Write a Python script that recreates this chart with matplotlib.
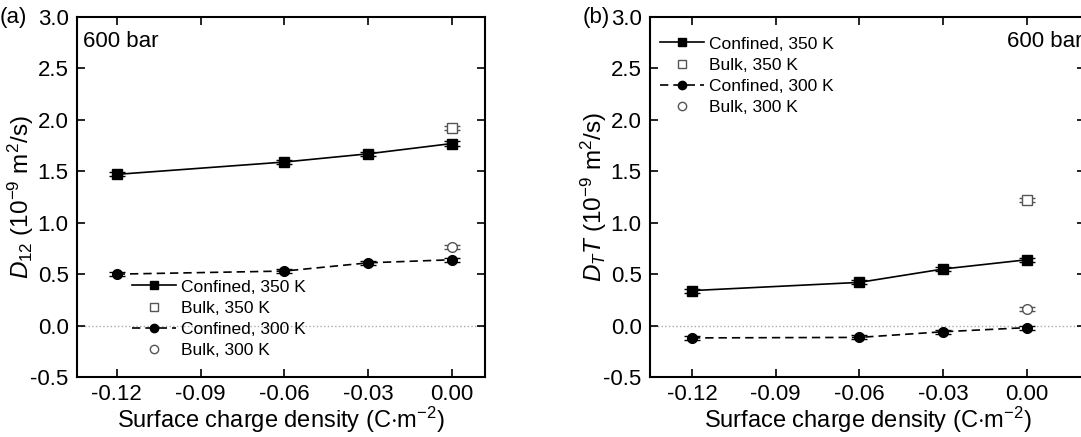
import matplotlib
matplotlib.use("Agg")
import matplotlib.pyplot as plt
from matplotlib.lines import Line2D

plt.rcParams["font.family"] = ["Liberation Sans", "DejaVu Sans"]
plt.rcParams["mathtext.fontset"] = "custom"
plt.rcParams["mathtext.rm"] = "Liberation Sans"
plt.rcParams["mathtext.it"] = "Liberation Sans:italic"

sigma = [-0.12, -0.06, -0.03, 0.00]
xticks = [-0.12, -0.09, -0.06, -0.03, 0.00]
yticks = [-0.5, 0.0, 0.5, 1.0, 1.5, 2.0, 2.5, 3.0]

# panel (a): D12
d12_conf_350 = [1.47, 1.59, 1.67, 1.77]
d12_conf_300 = [0.50, 0.53, 0.61, 0.64]
d12_bulk_350 = [1.92]
d12_bulk_300 = [0.76]

# panel (b): DT*T
dtt_conf_350 = [0.34, 0.42, 0.55, 0.64]
dtt_conf_300 = [-0.12, -0.115, -0.06, -0.02]
dtt_bulk_350 = [1.22]
dtt_bulk_300 = [0.16]

err = 0.02

fig = plt.figure(figsize=(10.81, 4.37), dpi=100)
W, H = 1081, 437
axa = fig.add_axes([77 / W, 1 - 377 / H, 408 / W, 360 / H])
axb = fig.add_axes([650 / W, 1 - 377 / H, 435 / W, 360 / H])


def draw(ax, c350, c300, b350, b300):
    ax.axhline(0, color="#aaaaaa", ls=":", lw=1, zorder=0)
    ax.errorbar(sigma, c350, yerr=err, fmt="-s", color="k", ms=7, lw=1.2,
                capsize=6, elinewidth=1)
    ax.errorbar([0.0], b350, yerr=err, fmt="s", color="#555555", mfc="white",
                ms=7, capsize=6, elinewidth=1)
    ax.errorbar(sigma, c300, yerr=err, fmt="--o", color="k", ms=7, lw=1.2,
                dashes=(5, 3), capsize=6, elinewidth=1)
    ax.errorbar([0.0], b300, yerr=err, fmt="o", color="#555555", mfc="white",
                ms=7, capsize=6, elinewidth=1)
    ax.set_ylim(-0.5, 3.0)
    ax.set_xticks(xticks)
    ax.set_xticklabels([f"{v:.2f}" for v in xticks])
    ax.set_yticks(yticks)
    ax.set_yticklabels([f"{v:.1f}" for v in yticks])
    ax.tick_params(direction="in", length=6, width=1.2, labelsize=16,
                   top=True, right=True)
    ax.tick_params(axis="y", pad=6)
    ax.tick_params(axis="x", pad=5)
    for s in ax.spines.values():
        s.set_linewidth(1.5)
    ax.set_xlabel("Surface charge density (C$\\cdot$m$^{-2}$)", fontsize=17,
                  labelpad=0)


draw(axa, d12_conf_350, d12_conf_300, d12_bulk_350, d12_bulk_300)
draw(axb, dtt_conf_350, dtt_conf_300, dtt_bulk_350, dtt_bulk_300)
axa.set_xlim(-0.1342, 0.0118)
axb.set_xlim(-0.135, 0.0208)

axa.set_ylabel("$D_{12}$ (10$^{-9}$ m$^{2}$/s)", fontsize=17.5)
axb.set_ylabel("$D_{T}T$ (10$^{-9}$ m$^{2}$/s)", fontsize=17.5)
axa.yaxis.set_label_coords((36 - 77) / 408, 0.5)
axb.yaxis.set_label_coords((609 - 650) / 435, 0.5)

axa.text(0.015, 0.96, "600 bar", transform=axa.transAxes, fontsize=16,
         va="top", ha="left")
axb.text(0.995, 0.96, "600 bar", transform=axb.transAxes, fontsize=16,
         va="top", ha="right")

fig.text(0 / W, 1 - 17 / H, "(a)", fontsize=16, va="center", ha="left")
fig.text(583 / W, 1 - 17 / H, "(b)", fontsize=16, va="center", ha="left")

handles = [
    Line2D([], [], color="k", marker="s", ms=6, lw=1.2),
    Line2D([], [], color="#555555", marker="s", mfc="white", ms=6, ls="none"),
    Line2D([], [], color="k", marker="o", ms=6, lw=1.2, dashes=(5, 3)),
    Line2D([], [], color="#555555", marker="o", mfc="white", ms=6, ls="none"),
]
labels = ["Confined, 350 K", "Bulk, 350 K", "Confined, 300 K", "Bulk, 300 K"]

leg_kw = dict(frameon=False, fontsize=12.5, handlelength=2.5, handletextpad=0.3,
              labelspacing=0.35, borderaxespad=0.2)
axa.legend(handles, labels, loc="upper left", bbox_to_anchor=(0.11, 0.30), **leg_kw)
axb.legend(handles, labels, loc="upper left", bbox_to_anchor=(0.0, 0.975), **leg_kw)

fig.savefig("out.png", dpi=100)
